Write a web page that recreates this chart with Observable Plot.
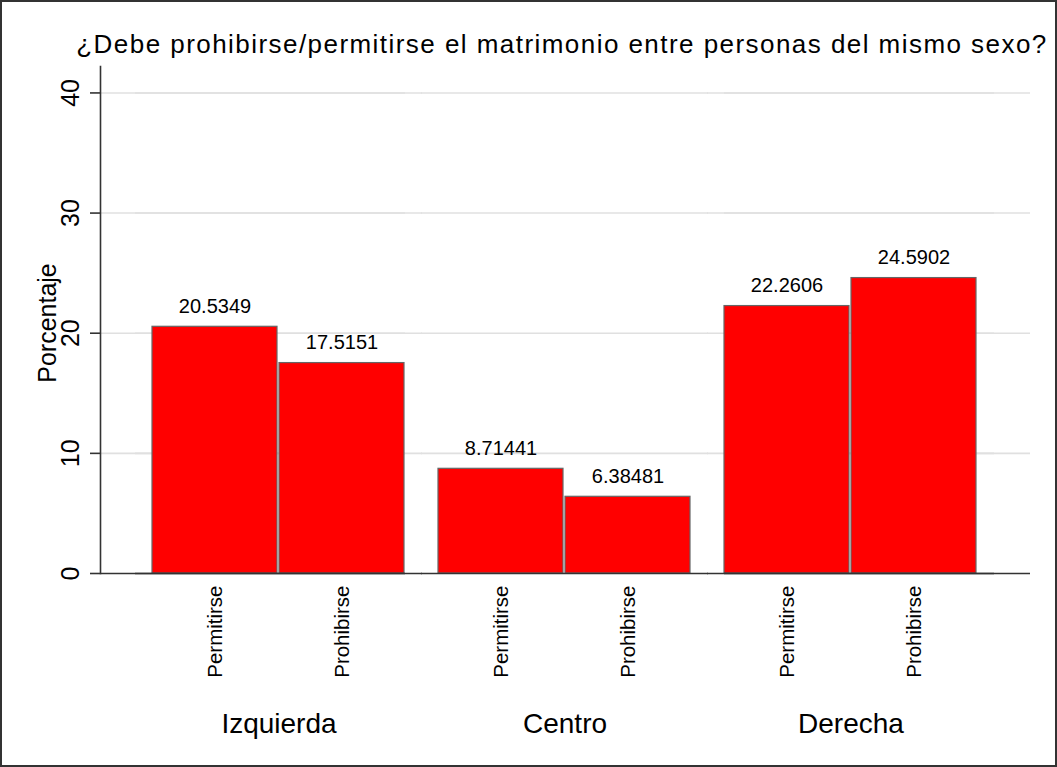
<!DOCTYPE html>
<html>
<head>
<meta charset="utf-8">
<script src="https://cdn.jsdelivr.net/npm/d3@7"></script>
<script src="https://cdn.jsdelivr.net/npm/@observablehq/plot@0.6"></script>
<style>
  body { margin: 0; background: #fff; }
  #wrap { position: relative; width: 1057px; height: 767px; box-sizing: border-box; border: 2px solid #333; background: #fff; font-family: "Liberation Sans", Arial, sans-serif; overflow: hidden; }
  #title { position: absolute; left: 560px; top: 29px; transform: translateX(-50%); font-size: 26px; line-height: 1; white-space: nowrap; color: #000; letter-spacing: 1.45px; }
  #chart { position: absolute; left: 0; top: 0; }
</style>
</head>
<body>
<div id="wrap"><div id="chart"></div><div id="title"></div></div>
<script>
const titleText = "¿Debe prohibirse/permitirse el matrimonio entre personas del mismo sexo?";
const yLabel = "Porcentaje";
const groups = ["Izquierda", "Centro", "Derecha"];
const categories = ["Permitirse", "Prohibirse"];
const permitirse = [20.5349, 8.71441, 22.2606];
const prohibirse = [17.5151, 6.38481, 24.5902];
const yTicks = [0, 10, 20, 30, 40];
const gridTicks = [10, 20, 30, 40];

document.getElementById("title").textContent = titleText;

const rows = groups.flatMap((g, i) => [
  {group: g, cat: categories[0], value: permitirse[i]},
  {group: g, cat: categories[1], value: prohibirse[i]}
]);

const gridStyle = {stroke: "#e0e0e0", strokeOpacity: 1, strokeWidth: 1.6};
const axisStyle = {stroke: "#333", strokeOpacity: 1, strokeWidth: 1.6};

const chart = Plot.plot({
  width: 1053,
  height: 763,
  marginLeft: 97,
  marginRight: 25,
  marginTop: 64,
  marginBottom: 192,
  style: {fontFamily: '"Liberation Sans", Arial, sans-serif', color: "#000", background: "transparent", overflow: "visible"},
  fx: {domain: groups, paddingInner: 0.115, paddingOuter: 0.1815, label: null},
  x: {domain: categories, paddingInner: 0.0156, paddingOuter: 0, label: null},
  y: {domain: [0, 42.2], label: null},
  marks: [
    Plot.ruleY(gridTicks, {...gridStyle, insetLeft: -17, insetRight: -17}),
    Plot.ruleY(gridTicks, {...gridStyle, facetAnchor: "left", insetLeft: -52}),
    Plot.ruleY(gridTicks, {...gridStyle, facetAnchor: "right", insetRight: -53}),
    Plot.barY(rows, {fx: "group", x: "cat", y: "value", fill: "#ff0000", stroke: "#666666", strokeWidth: 1.2}),
    Plot.text(rows, {fx: "group", x: "cat", y: "value", text: d => String(d.value), lineAnchor: "bottom", dy: -14, fontSize: 20, fill: "#000"}),
    Plot.ruleY([0], {...axisStyle, insetLeft: -17, insetRight: -17}),
    Plot.ruleY([0], {...axisStyle, facetAnchor: "left", insetLeft: -52}),
    Plot.ruleY([0], {...axisStyle, facetAnchor: "right", insetRight: -53}),
    Plot.frame({...axisStyle, anchor: "left", facetAnchor: "left", dx: -52}),
    Plot.axisY({ticks: yTicks, tickSize: 10, tickPadding: 12, tickRotate: -90, fontSize: 25, stroke: "#333", strokeWidth: 1.6, dx: -52, label: null}),
    Plot.text([yLabel], {text: d => d, frameAnchor: "left", facetAnchor: "left", rotate: -90, textAnchor: "middle", lineAnchor: "top", dx: -114, dy: 3, fontSize: 25, fill: "#000"}),
    Plot.axisX({tickSize: 0, tickPadding: 12, tickRotate: -90, fontSize: 20.5, label: null}),
    Plot.axisFx({anchor: "bottom", tickSize: 0, tickPadding: 140, fontSize: 28, label: null})
  ]
});
document.getElementById("chart").appendChild(chart);
</script>
</body>
</html>
